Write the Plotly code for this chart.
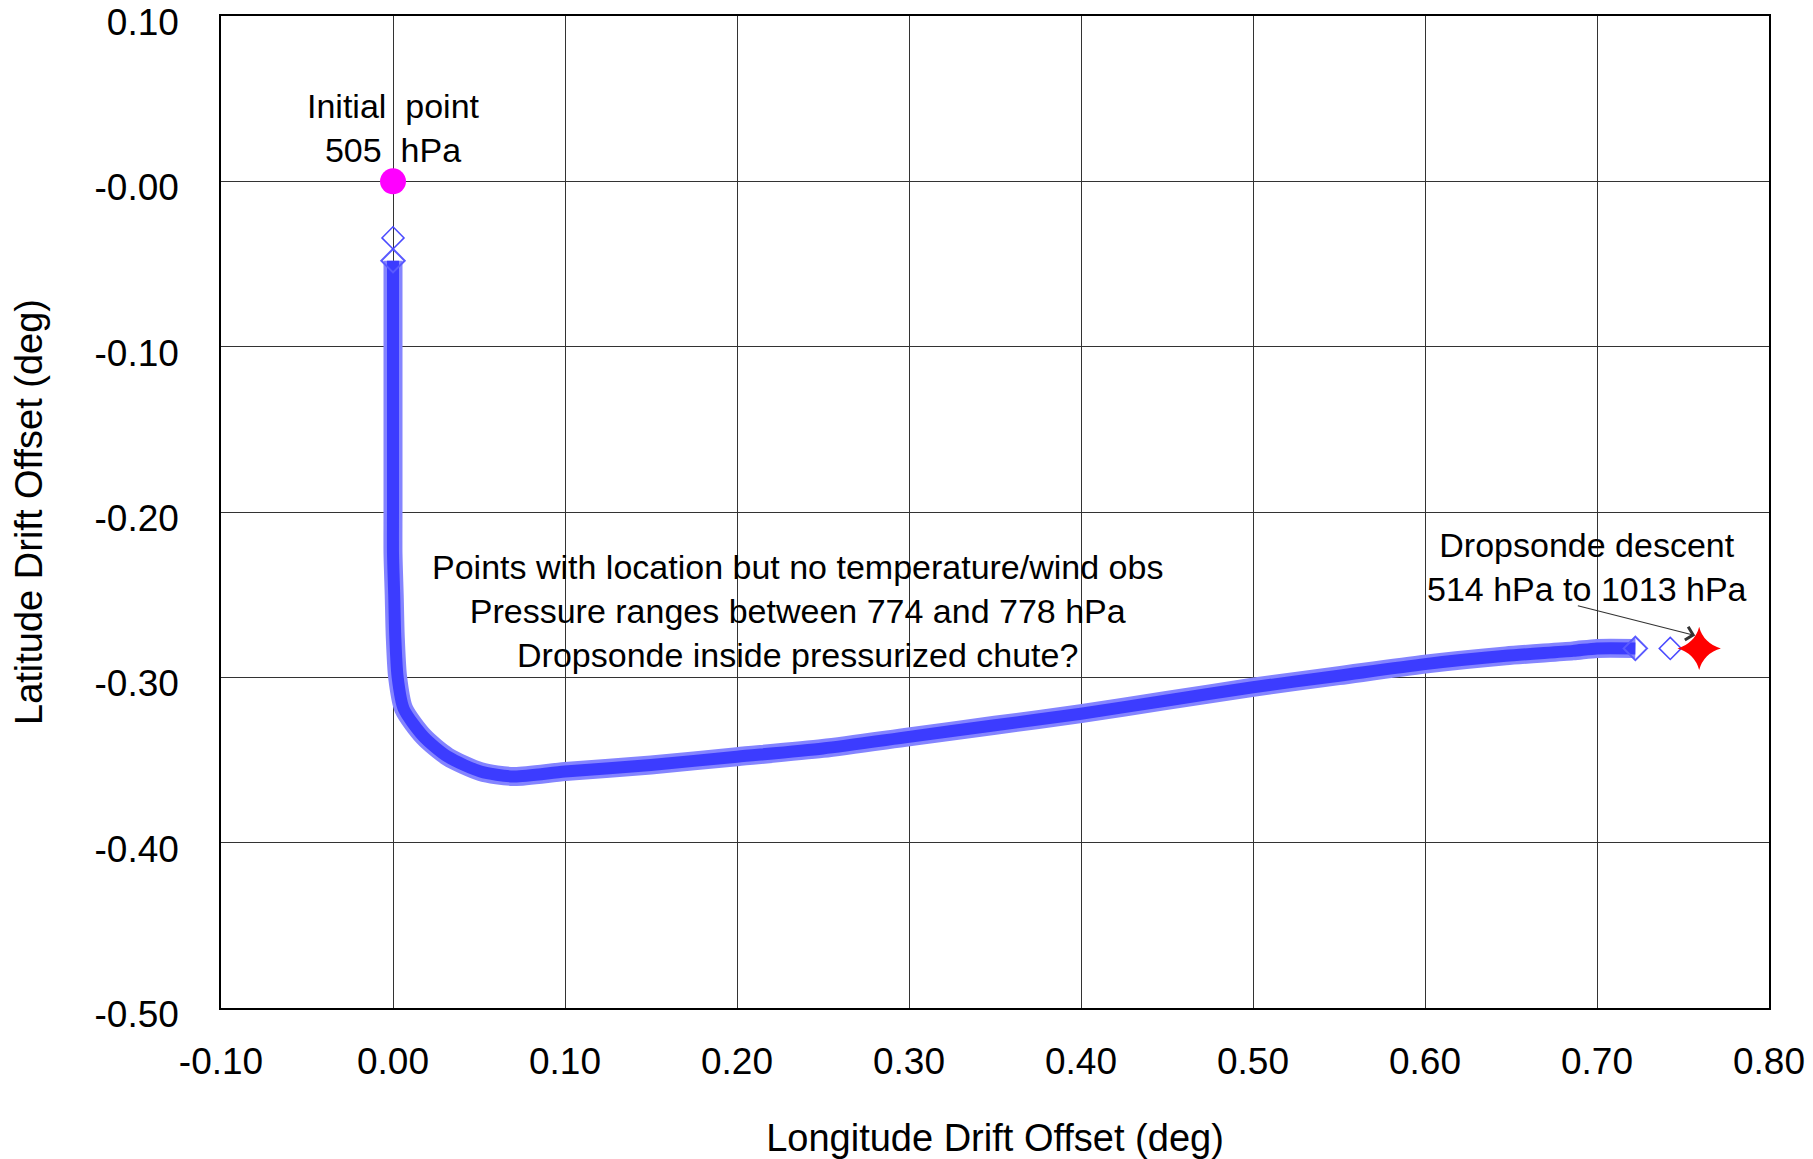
import plotly.graph_objects as go

# ---- data ----
band_lon = [0.0000, 0.0000, 0.0000, 0.0000, 0.0000, 0.0000, 0.0007, 0.0013, 0.0027,
            0.0062, 0.0179, 0.0318, 0.0509, 0.0701, 0.1000, 0.1500, 0.2000, 0.2500,
            0.3000, 0.3500, 0.4000, 0.4500, 0.5000, 0.5500, 0.6000, 0.6470, 0.6860,
            0.7000, 0.7223]
band_lat = [-0.048, -0.080, -0.120, -0.160, -0.200, -0.225, -0.250, -0.275, -0.300,
            -0.319, -0.336, -0.348, -0.357, -0.360, -0.357, -0.353, -0.348, -0.343,
            -0.336, -0.329, -0.322, -0.314, -0.306, -0.299, -0.292, -0.287, -0.284,
            -0.2825, -0.2825]
single_lon = [0.0000, 0.7426]
single_lat = [-0.0342, -0.2825]
initial_lon = [0.0]
initial_lat = [0.0]
descent_lon = [0.7594]
descent_lat = [-0.2825]

x_tickvals = [-0.1, 0.0, 0.1, 0.2, 0.3, 0.4, 0.5, 0.6, 0.7, 0.8]
x_ticktext = ["-0.10", "0.00", "0.10", "0.20", "0.30", "0.40", "0.50", "0.60", "0.70", "0.80"]
y_tickvals = [0.1, 0.0, -0.1, -0.2, -0.3, -0.4, -0.5]
y_ticktext = ["0.10", "-0.00", "-0.10", "-0.20", "-0.30", "-0.40", "-0.50"]

FONT = "Liberation Sans, Arial, Helvetica, sans-serif"

fig = go.Figure()

# dense band of drift points (outer light edge + darker core)
fig.add_trace(go.Scatter(x=band_lon, y=band_lat, mode="lines",
                         line=dict(color="#8484ff", width=19, shape="spline", smoothing=0.7),
                         hoverinfo="skip", showlegend=False))
fig.add_trace(go.Scatter(x=band_lon, y=band_lat, mode="lines",
                         line=dict(color="#3c3cff", width=12, shape="spline", smoothing=0.7),
                         hoverinfo="skip", showlegend=False))
fig.add_trace(go.Scatter(x=[band_lon[0], band_lon[-1]], y=[band_lat[0], band_lat[-1]],
                         mode="markers",
                         marker=dict(symbol="diamond-open", size=18, color="#5a5aff",
                                     line=dict(width=2, color="#5a5aff")),
                         showlegend=False))
fig.add_trace(go.Scatter(x=single_lon, y=single_lat, mode="markers",
                         marker=dict(symbol="diamond-open", size=17, color="#4a4aff",
                                     line=dict(width=1.5, color="#4a4aff")),
                         showlegend=False))
fig.add_trace(go.Scatter(x=initial_lon, y=initial_lat, mode="markers",
                         marker=dict(symbol="circle", size=26, color="#ff00ff"),
                         showlegend=False))
fig.add_trace(go.Scatter(x=descent_lon, y=descent_lat, mode="markers",
                         marker=dict(symbol="star-diamond", size=31, color="#ff0000"),
                         showlegend=False))

ann_font = dict(family=FONT, size=34, color="black")
fig.add_annotation(x=0.0, y=0.032, xref="x", yref="y",
                   text="Initial\u00a0\u00a0point<br>505\u00a0\u00a0hPa",
                   showarrow=False, font=ann_font, xanchor="center", yanchor="middle")
fig.add_annotation(x=0.235, y=-0.2598, xref="x", yref="y",
                   text="Points with location but no temperature/wind obs<br>"
                        "Pressure ranges between 774 and 778 hPa<br>"
                        "Dropsonde inside pressurized chute?",
                   showarrow=False, font=ann_font, xanchor="center", yanchor="middle")
fig.add_annotation(x=0.694, y=-0.2335, xref="x", yref="y",
                   text="Dropsonde descent<br>514 hPa to 1013 hPa",
                   showarrow=False, font=ann_font, xanchor="center", yanchor="middle")
fig.add_annotation(x=0.7571, y=-0.2747, xref="x", yref="y",
                   ax=0.688, ay=-0.2565, axref="x", ayref="y", text="",
                   showarrow=True, arrowhead=4, arrowsize=2.2, arrowwidth=1.2,
                   arrowcolor="#333333")

axis_common = dict(showgrid=True, gridcolor="#333333", gridwidth=1,
                   showline=True, linecolor="black", linewidth=1.5, mirror=True,
                   zeroline=False, ticks="", ticklabeloverflow="allow", automargin=False,
                   tickfont=dict(family=FONT, size=37, color="black"))

fig.update_xaxes(range=[-0.1, 0.8], tickvals=x_tickvals, ticktext=x_ticktext,
                 ticklabelstandoff=20,
                 title=dict(text="Longitude Drift Offset (deg)",
                            font=dict(family=FONT, size=38, color="black"), standoff=49),
                 **axis_common)
fig.update_yaxes(range=[-0.5, 0.1], tickvals=y_tickvals, ticktext=y_ticktext,
                 ticklabelstandoff=33, ticklabelshift=6,
                 title=dict(text="Latitude Drift Offset (deg)",
                            font=dict(family=FONT, size=38, color="black"), standoff=40),
                 **axis_common)

fig.update_layout(width=1813, height=1159, autosize=False,
                  margin=dict(l=221, r=44, t=16, b=151, pad=0),
                  plot_bgcolor="white", paper_bgcolor="white",
                  font=dict(family=FONT, color="black"), showlegend=False)

fig.write_html("out.html", config={"displayModeBar": False},
               post_script="document.body.style.margin='0';")
